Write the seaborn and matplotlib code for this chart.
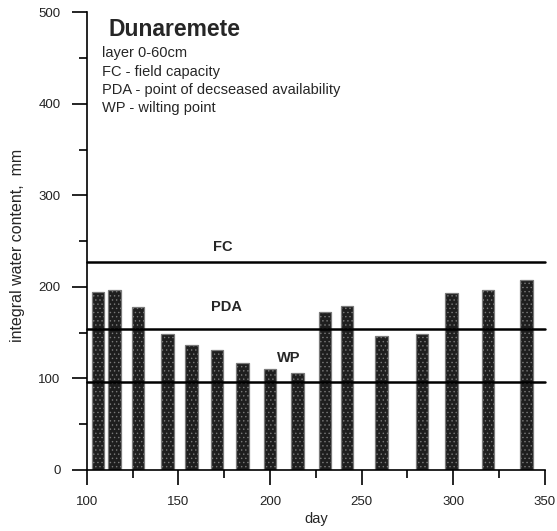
import matplotlib
matplotlib.use("Agg")
import matplotlib.pyplot as plt
import seaborn as sns
import numpy as np
import pandas as pd
from matplotlib.ticker import MultipleLocator

days = [106, 115, 128, 144, 157, 171, 185, 200, 215, 230, 242, 261, 283, 299, 319, 340]
water = [194, 197, 178, 148, 136, 131, 117, 110, 106, 173, 179, 146, 148, 193, 197, 207]
level_names = ["FC", "PDA", "WP"]
level_values = [227, 154, 96]
label_x = [174, 176, 210]
label_y = [243, 178, 122]
notes = ["layer 0-60cm", "FC - field capacity",
         "PDA - point of decseased availability", "WP - wilting point"]

sns.set_theme(style="ticks")
plt.rcParams["font.family"] = ["Liberation Sans", "DejaVu Sans"]
plt.rcParams["hatch.linewidth"] = 0.5

fig = plt.figure(figsize=(5.57, 5.31), dpi=100)
ax = fig.add_axes([0.156, 0.115, 0.822, 0.862])

df = pd.DataFrame({"day": days, "water": water})
bar_w_days = 6.9
min_gap = np.min(np.diff(sorted(days)))
sns.barplot(data=df, x="day", y="water", native_scale=True,
            width=bar_w_days / min_gap, color="#222222",
            saturation=1, ax=ax, errorbar=None)
for p in ax.patches:
    p.set_facecolor("#1e1e1e")
    p.set_edgecolor("#7a7a7a")
    p.set_hatch("....")
    p.set_linewidth(0.9)
    p.set_zorder(2)

for name, val, lx, ly in zip(level_names, level_values, label_x, label_y):
    ax.plot([100, 350], [val, val], color="black", lw=1.8, clip_on=False, zorder=3)
    ax.text(lx, ly, name, fontsize=10.5, fontweight="bold", ha="center", va="center")

ax.set_xlim(100, 350)
ax.set_ylim(0, 500)
ax.xaxis.set_major_locator(MultipleLocator(50))
ax.xaxis.set_minor_locator(MultipleLocator(25))
ax.yaxis.set_major_locator(MultipleLocator(100))
ax.yaxis.set_minor_locator(MultipleLocator(50))
ax.tick_params(which="major", length=11, width=1.2, labelsize=9.5, color="black",
               labelcolor="#222222", pad=8)
ax.tick_params(which="minor", length=6, width=1.2, color="black")
ax.tick_params(axis="x", which="both", direction="out")
ax.set_xlabel("day", fontsize=10.5, labelpad=3)
ax.set_ylabel("integral water content,  mm", fontsize=11.5)
ax.yaxis.set_label_coords(-0.135, 0.49)
for s in ["top", "right"]:
    ax.spines[s].set_visible(False)
for s in ["left", "bottom"]:
    ax.spines[s].set_color("black")
    ax.spines[s].set_linewidth(1.2)

ax.text(112, 481, "Dunaremete", fontsize=16.5, fontweight="bold", va="center", ha="left")
for i, t in enumerate(notes):
    ax.text(108.5, 455 - i * 20, t, fontsize=10.5, va="center", ha="left")

fig.savefig("out.png", dpi=100)
